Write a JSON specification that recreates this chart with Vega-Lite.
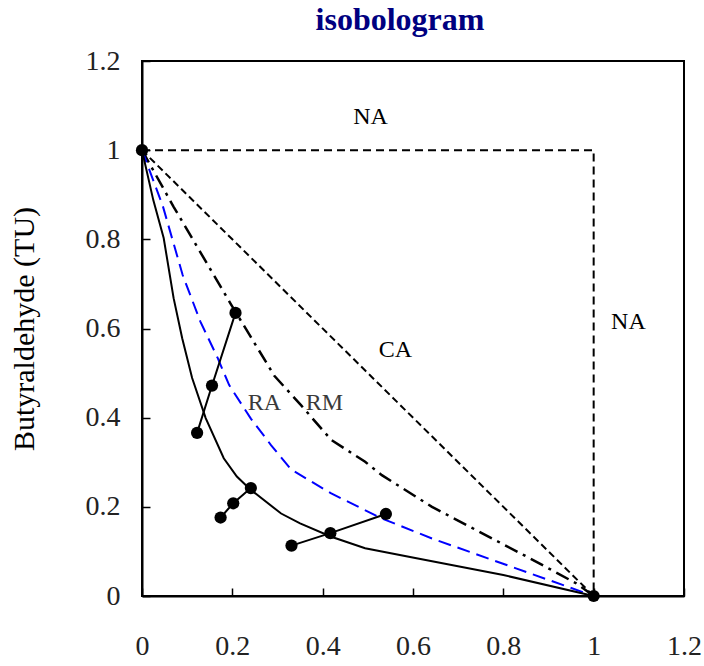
{
  "$schema": "https://vega.github.io/schema/vega-lite/v6.json",
  "autosize": {"type": "none"},
  "padding": {"left": 142, "top": 61, "right": 20, "bottom": 70},
  "width": 542,
  "height": 535,
  "background": "white",
  "title": {
    "text": "isobologram",
    "font": "Liberation Serif",
    "fontSize": 32,
    "fontWeight": "bold",
    "color": "#000080",
    "anchor": "middle",
    "dx": -13,
    "offset": 10
  },
  "datasets": {
    "curves": [
      {"s": "NA", "o": 1, "x": 0, "y": 1},
      {"s": "NA", "o": 2, "x": 1, "y": 1},
      {"s": "NA", "o": 3, "x": 1, "y": 0},
      {"s": "CA", "o": 1, "x": 0, "y": 1},
      {"s": "CA", "o": 2, "x": 1, "y": 0},
      {"s": "RM", "o": 1, "x": 0, "y": 1},
      {"s": "RM", "o": 2, "x": 0.07, "y": 0.873},
      {"s": "RM", "o": 3, "x": 0.196, "y": 0.656},
      {"s": "RM", "o": 4, "x": 0.293, "y": 0.494},
      {"s": "RM", "o": 5, "x": 0.352, "y": 0.428},
      {"s": "RM", "o": 6, "x": 0.419, "y": 0.35},
      {"s": "RM", "o": 7, "x": 0.494, "y": 0.301},
      {"s": "RM", "o": 8, "x": 0.531, "y": 0.271},
      {"s": "RM", "o": 9, "x": 0.642, "y": 0.2},
      {"s": "RM", "o": 10, "x": 0.858, "y": 0.085},
      {"s": "RM", "o": 11, "x": 0.962, "y": 0.028},
      {"s": "RM", "o": 12, "x": 1, "y": 0},
      {"s": "RA", "o": 1, "x": 0, "y": 1},
      {"s": "RA", "o": 2, "x": 0.046, "y": 0.875},
      {"s": "RA", "o": 3, "x": 0.09, "y": 0.72},
      {"s": "RA", "o": 4, "x": 0.129, "y": 0.616},
      {"s": "RA", "o": 5, "x": 0.167, "y": 0.535},
      {"s": "RA", "o": 6, "x": 0.193, "y": 0.473},
      {"s": "RA", "o": 7, "x": 0.241, "y": 0.398},
      {"s": "RA", "o": 8, "x": 0.286, "y": 0.338},
      {"s": "RA", "o": 9, "x": 0.33, "y": 0.284},
      {"s": "RA", "o": 10, "x": 0.419, "y": 0.23},
      {"s": "RA", "o": 11, "x": 0.531, "y": 0.174},
      {"s": "RA", "o": 12, "x": 0.642, "y": 0.129},
      {"s": "RA", "o": 13, "x": 0.828, "y": 0.062},
      {"s": "RA", "o": 14, "x": 1, "y": 0},
      {"s": "OBS", "o": 1, "x": 0, "y": 1},
      {"s": "OBS", "o": 2, "x": 0.025, "y": 0.888},
      {"s": "OBS", "o": 3, "x": 0.048, "y": 0.803},
      {"s": "OBS", "o": 4, "x": 0.07, "y": 0.668},
      {"s": "OBS", "o": 5, "x": 0.089, "y": 0.578},
      {"s": "OBS", "o": 6, "x": 0.111, "y": 0.489},
      {"s": "OBS", "o": 7, "x": 0.141, "y": 0.399},
      {"s": "OBS", "o": 8, "x": 0.181, "y": 0.309},
      {"s": "OBS", "o": 9, "x": 0.21, "y": 0.268},
      {"s": "OBS", "o": 10, "x": 0.241, "y": 0.238},
      {"s": "OBS", "o": 11, "x": 0.308, "y": 0.185},
      {"s": "OBS", "o": 12, "x": 0.35, "y": 0.163},
      {"s": "OBS", "o": 13, "x": 0.419, "y": 0.133},
      {"s": "OBS", "o": 14, "x": 0.494, "y": 0.107},
      {"s": "OBS", "o": 15, "x": 0.605, "y": 0.085},
      {"s": "OBS", "o": 16, "x": 0.8, "y": 0.047},
      {"s": "OBS", "o": 17, "x": 1, "y": 0}
    ],
    "pairs": [
      {"g": "g1", "x": 0.207, "y": 0.635},
      {"g": "g1", "x": 0.155, "y": 0.472},
      {"g": "g1", "x": 0.122, "y": 0.366},
      {"g": "g2", "x": 0.241, "y": 0.242},
      {"g": "g2", "x": 0.202, "y": 0.208},
      {"g": "g2", "x": 0.174, "y": 0.176},
      {"g": "g3", "x": 0.54, "y": 0.184},
      {"g": "g3", "x": 0.417, "y": 0.141},
      {"g": "g3", "x": 0.331, "y": 0.113},
      {"g": "e1", "x": 0, "y": 1},
      {"g": "e2", "x": 1, "y": 0}
    ],
    "labels": [
      {"t": "NA", "x": 0.506, "y": 1.074},
      {"t": "NA", "x": 1.077, "y": 0.614},
      {"t": "CA", "x": 0.561, "y": 0.552},
      {"t": "RA", "x": 0.271, "y": 0.432},
      {"t": "RM", "x": 0.404, "y": 0.432}
    ]
  },
  "encoding": {
    "x": {
      "field": "x",
      "type": "quantitative",
      "scale": {"domain": [0, 1.2], "nice": false, "zero": false},
      "axis": {
        "title": null,
        "values": [0, 0.2, 0.4, 0.6, 0.8, 1, 1.2],
        "format": "~g",
        "labelPadding": 44
      }
    },
    "y": {
      "field": "y",
      "type": "quantitative",
      "scale": {"domain": [0, 1.2], "nice": false, "zero": false},
      "axis": {
        "title": "Butyraldehyde (TU)",
        "values": [0, 0.2, 0.4, 0.6, 0.8, 1, 1.2],
        "format": "~g",
        "labelPadding": 30,
        "titleFontSize": 30,
        "titleFontWeight": "normal",
        "titleColor": "black",
        "titlePadding": 46
      }
    }
  },
  "layer": [
    {
      "data": {"name": "curves"},
      "transform": [{"filter": "datum.s === 'NA'"}],
      "mark": {"type": "line", "color": "black", "strokeWidth": 2, "strokeDash": [8, 5]},
      "encoding": {"order": {"field": "o", "type": "quantitative"}}
    },
    {
      "data": {"name": "curves"},
      "transform": [{"filter": "datum.s === 'CA'"}],
      "mark": {"type": "line", "color": "black", "strokeWidth": 2, "strokeDash": [7, 4]},
      "encoding": {"order": {"field": "o", "type": "quantitative"}}
    },
    {
      "data": {"name": "curves"},
      "transform": [{"filter": "datum.s === 'RM'"}],
      "mark": {"type": "line", "color": "black", "strokeWidth": 2.5, "strokeDash": [14, 6, 3, 6]},
      "encoding": {"order": {"field": "o", "type": "quantitative"}}
    },
    {
      "data": {"name": "curves"},
      "transform": [{"filter": "datum.s === 'RA'"}],
      "mark": {"type": "line", "color": "#0000ff", "strokeWidth": 2, "strokeDash": [13, 7]},
      "encoding": {"order": {"field": "o", "type": "quantitative"}}
    },
    {
      "data": {"name": "curves"},
      "transform": [{"filter": "datum.s === 'OBS'"}],
      "mark": {"type": "line", "color": "black", "strokeWidth": 2},
      "encoding": {"order": {"field": "o", "type": "quantitative"}}
    },
    {
      "data": {"name": "pairs"},
      "mark": {"type": "line", "color": "black", "strokeWidth": 2},
      "encoding": {"detail": {"field": "g", "type": "nominal"}}
    },
    {
      "data": {"name": "pairs"},
      "mark": {"type": "point", "filled": true, "color": "black", "opacity": 1, "size": 150}
    },
    {
      "data": {"name": "labels"},
      "transform": [{"filter": "datum.t === 'NA' || datum.t === 'CA'"}],
      "mark": {"type": "text", "font": "Liberation Serif", "fontSize": 24, "color": "black"},
      "encoding": {"text": {"field": "t"}}
    },
    {
      "data": {"name": "labels"},
      "transform": [{"filter": "datum.t === 'RA' || datum.t === 'RM'"}],
      "mark": {"type": "text", "font": "Liberation Serif", "fontSize": 24, "color": "#3a3a3a"},
      "encoding": {"text": {"field": "t"}}
    }
  ],
  "config": {
    "view": {"stroke": "black", "strokeWidth": 2},
    "axis": {
      "grid": false,
      "domainColor": "black",
      "domainWidth": 2,
      "tickColor": "black",
      "tickWidth": 1.5,
      "tickSize": -8,
      "labelFlush": false,
      "labelFont": "Liberation Serif",
      "labelFontSize": 28,
      "labelColor": "#222222",
      "titleFont": "Liberation Serif"
    }
  }
}
